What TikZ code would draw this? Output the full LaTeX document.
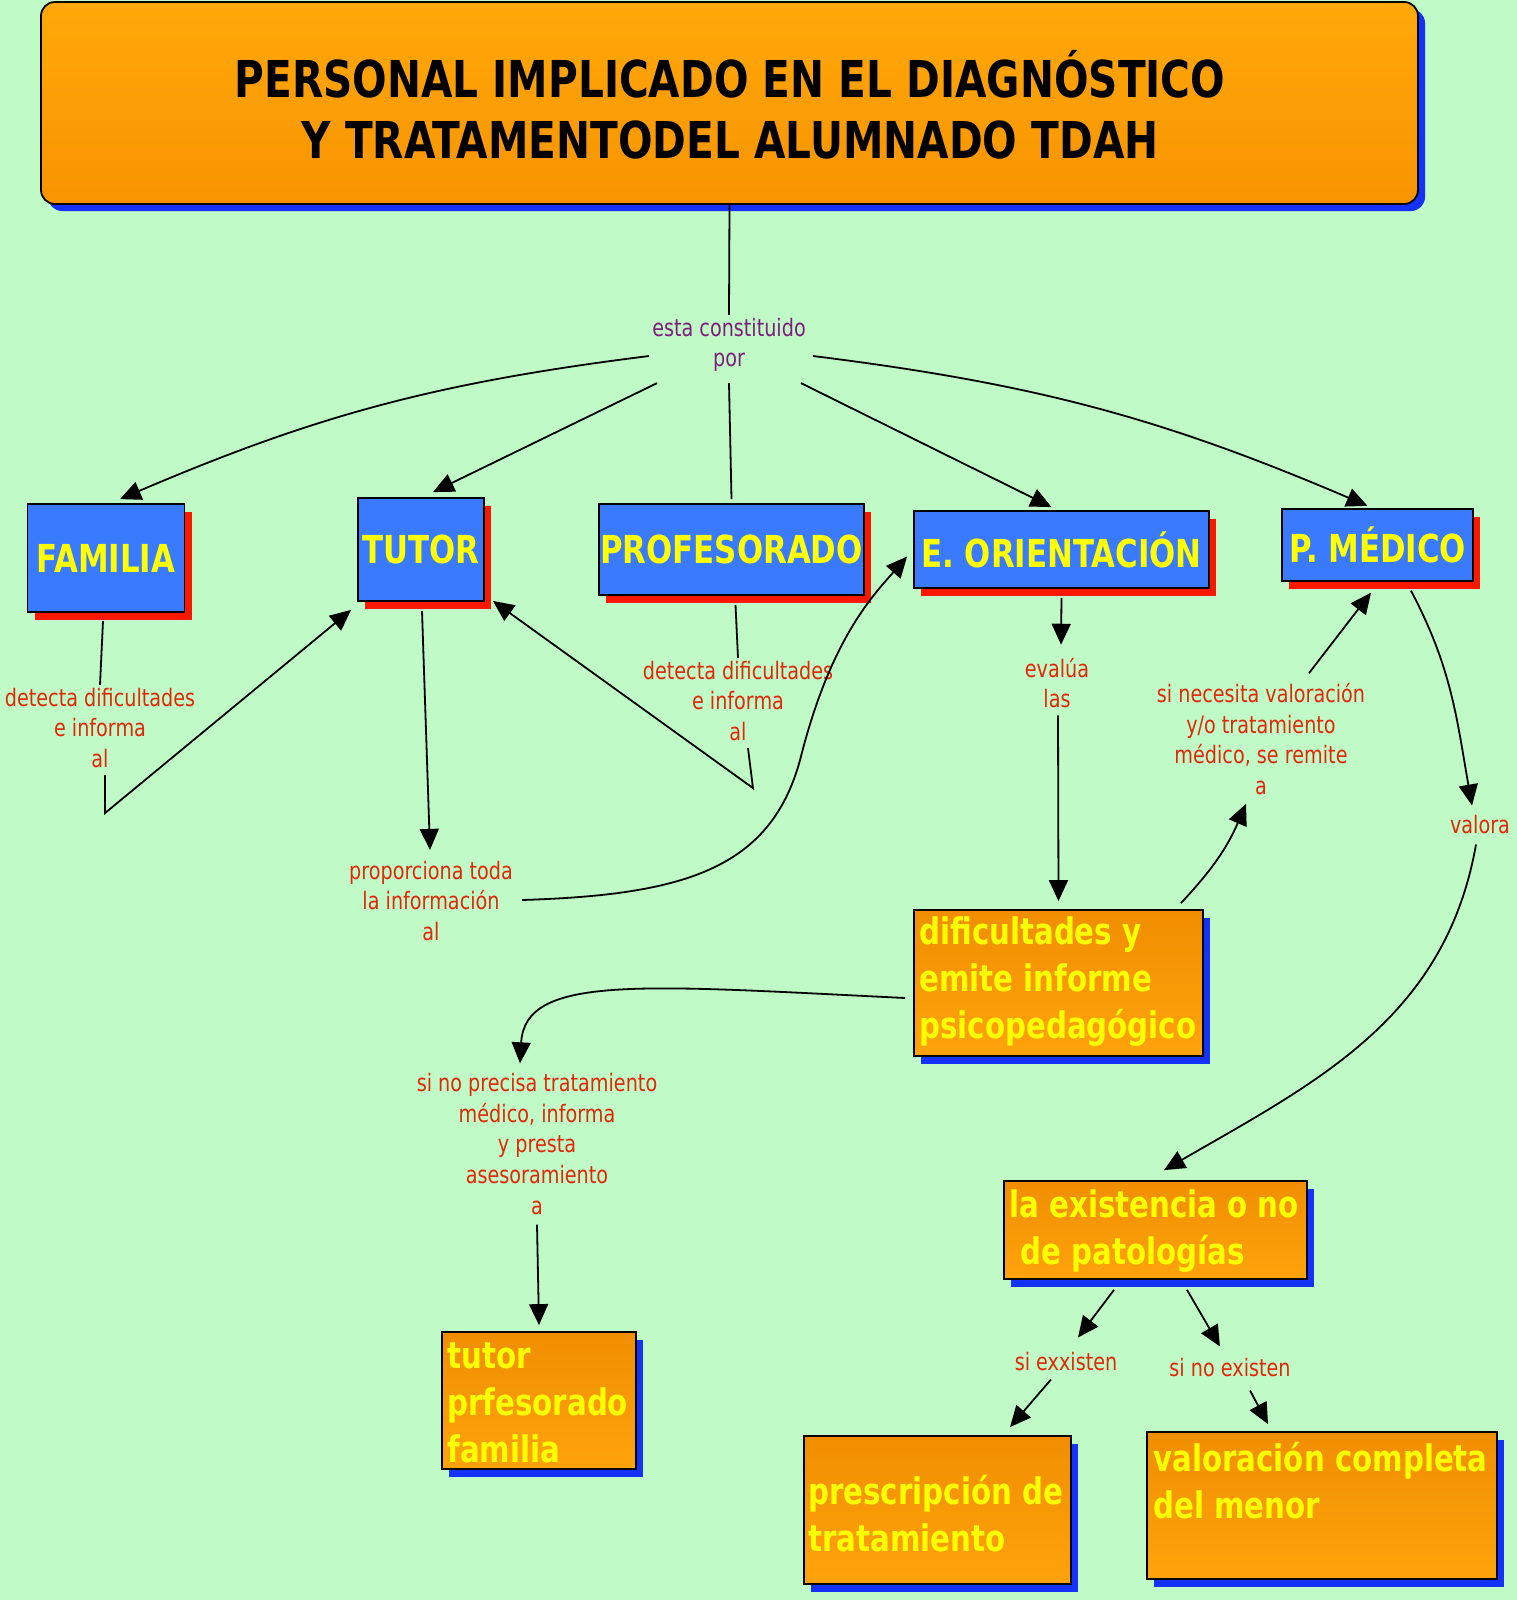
\documentclass[tikz,border=0pt]{standalone}
\usepackage{fontspec}
\newfontfamily\mapfont[FakeStretch=0.8]{DejaVu Sans}
\usetikzlibrary{arrows.meta,shadows}

\definecolor{bggreen}{RGB}{192,250,198}
\definecolor{boxblue}{RGB}{58,122,255}
\definecolor{orangetop}{RGB}{240,142,0}
\definecolor{orangebottom}{RGB}{255,163,12}
\definecolor{shadowred}{RGB}{250,25,0}
\definecolor{shadowblue}{RGB}{20,50,250}
\definecolor{textyellow}{RGB}{255,255,0}
\definecolor{linkred}{RGB}{225,40,10}
\definecolor{linkpurple}{RGB}{125,30,125}

\tikzset{
  bluebox/.style={draw=black, line width=1.8pt, fill=boxblue, text=textyellow,
    font=\mapfont\bfseries\fontsize{38.5}{44}\selectfont, inner sep=0pt,
    drop shadow={shadow xshift=7pt, shadow yshift=-8pt, fill=shadowred, opacity=1}},
  orangebox/.style={draw=black, line width=1.8pt, top color=orangetop, bottom color=orangebottom, inner sep=0pt,
    drop shadow={shadow xshift=7pt, shadow yshift=-8pt, fill=shadowblue, opacity=1}},
  orangetext/.style={text=textyellow, font=\mapfont\bfseries\fontsize{36.6}{47}\selectfont,
    align=left, inner sep=0pt, anchor=north west},
  linklabel/.style={text=linkred, font=\mapfont\fontsize{24}{30.6}\selectfont,
    align=center, inner sep=3pt},
  conn/.style={line width=1.8pt},
  connarrow/.style={conn, -{Triangle[length=21pt,width=19pt]}},
}

\begin{document}
\begin{tikzpicture}[x=1pt, y=-1pt]
    % Background
    \fill[bggreen] (0,0) rectangle (1517,1600);
    \useasboundingbox (0,0) rectangle (1517,1600);

    % Title
    \node[draw=black, line width=1.8pt, rounded corners=14pt, top color={rgb,255:red,255;green,168;blue,10},
      bottom color={rgb,255:red,248;green,148;blue,0}, minimum width=1377pt, minimum height=202pt,
      drop shadow={shadow xshift=7pt, shadow yshift=-7pt, fill=shadowblue, opacity=1}] (title) at (729.5,103) {};
    \node[font=\mapfont\bfseries\fontsize{50.8}{61}\selectfont, align=center] (titletxt) at (730,105)
      {PERSONAL IMPLICADO EN EL DIAGNÓSTICO\\Y TRATAMENTODEL ALUMNADO TDAH};

    % People
    \foreach \name/\x/\y/\w/\h/\txt in {
        familia/106/558/157/108/FAMILIA,
        tutor/421/549.5/126/103/TUTOR,
        profesorado/731.5/549.5/265/91/PROFESORADO,
        orientacion/1061.5/549.5/295/77/E. ORIENTACIÓN,
        medico/1377.5/545/191/72.5/P. MÉDICO} {
        \node[bluebox, minimum width=\w pt, minimum height=\h pt] (\name) at (\x,\y) {\txt};
    }

    % Results
    \node[orangebox, minimum width=289pt, minimum height=146pt] (psico) at (1058.5,983) {};
    \node[orangebox, minimum width=194pt, minimum height=137pt] (tutorlist) at (539,1400.5) {};
    \node[orangebox, minimum width=303pt, minimum height=98pt] (existencia) at (1155.5,1230) {};
    \node[orangebox, minimum width=267pt, minimum height=148pt] (prescripcion) at (937.5,1510) {};
    \node[orangebox, minimum width=350pt, minimum height=147pt] (valoracion) at (1322,1505.5) {};

    \node[orangetext] (psicotxt) at ([shift={(6,7)}]psico.north west) {dificultades y\\emite informe\\psicopedagógico};
    \node[orangetext] (tutorlisttxt) at ([shift={(6,11)}]tutorlist.north west) {tutor\\prfesorado\\familia};
    \node[orangetext] (existenciatxt) at ([shift={(6,9)}]existencia.north west) {la existencia o no\\\hspace*{11pt}de patologías};
    \node[orangetext] (prescripciontxt) at ([shift={(5,40)}]prescripcion.north west) {prescripción de\\tratamiento};
    \node[orangetext] (valoraciontxt) at ([shift={(7,11)}]valoracion.north west) {valoración completa\\del menor};

    % Linking phrases
    \node[linklabel, text=linkpurple] (esta) at (729,345) {esta constituido\\por};
    \node[linklabel] (detfam) at (100,728) {detecta dificultades\\e informa\\al};
    \node[linklabel] (detprof) at (738,701) {detecta dificultades\\e informa\\al};
    \node[linklabel] (propor) at (431,901) {proporciona toda\\la información\\al};
    \node[linklabel] (evalua) at (1057,683) {evalúa\\las};
    \node[linklabel] (necesita) at (1261,739) {si necesita valoración\\y/o tratamiento\\médico, se remite\\a};
    \node[linklabel] (valora) at (1480,825) {valora};
    \node[linklabel] (noprecisa) at (537,1144) {si no precisa tratamiento\\médico, informa\\y presta\\asesoramiento\\a};
    \node[linklabel] (siexisten) at (1066,1362) {si exxisten};
    \node[linklabel] (sinoexisten) at (1230,1368) {si no existen};

    % Connections from the title
    \draw[conn] (title.south) -- (esta.north);
    \draw[connarrow] ([shift={(0,11)}]esta.west) to[bend right=8] ([shift={(14,-4)}]familia.north);
    \draw[connarrow] ([shift={(8,8)}]esta.south west) -- ([shift={(12,-5)}]tutor.north);
    \draw[conn] ([shift={(0,8)}]esta.south) -- ([shift={(0,-4)}]profesorado.north);
    \draw[connarrow] ([shift={(-8,8)}]esta.south east) -- ([shift={(-10,-3)}]orientacion.north);
    \draw[connarrow] ([shift={(4,11)}]esta.east) to[bend left=8] ([shift={(-10,-2)}]medico.north);

    % Familia and profesorado inform the tutor
    \draw[conn] ([shift={(-3,8)}]familia.south) -- (detfam.north);
    \draw[connarrow] ([shift={(5,4)}]detfam.south) -- ++(0,38) -- ([shift={(-6,8)}]tutor.south west);
    \draw[conn] ([shift={(4,9)}]profesorado.south) -- (detprof.north);
    \draw[connarrow] ([shift={(10,4)}]detprof.south) -- ++(5,40) -- ([shift={(8,-1)}]tutor.south east);

    % Tutor informs the orientation team
    \draw[connarrow] ([shift={(1,9)}]tutor.south) -- ([shift={(-1,-8)}]propor.north);
    \draw[connarrow] ([shift={(6,-1)}]propor.east) .. controls +(160,-5) and +(-30,110) .. ++(278,-140)
      .. controls +(30,-120) and +(-35,40) .. ([shift={(-6,7)}]orientacion.west);

    % Orientation team
    \draw[connarrow] ([shift={(0,9)}]orientacion.south) -- ([shift={(4,-10)}]evalua.north);
    \draw[connarrow] ([shift={(1,4)}]evalua.south) -- ([shift={(0,-8)}]psico.north);
    \draw[connarrow] ([shift={(-23,-6)}]psico.north east) to[bend right=10] ([shift={(-15,6)}]necesita.south);
    \draw[connarrow] ([shift={(48,-7)}]necesita.north) -- ([shift={(-6.5,10.5)}]medico.south);
    \draw[connarrow] ([shift={(-8,15)}]psico.west) .. controls +(-266,-13) and +(5,-89) .. ([shift={(-17,-7)}]noprecisa.north);
    \draw[connarrow] ([shift={(0,7)}]noprecisa.south) -- ([shift={(0,-6)}]tutorlist.north);

    % Medical staff
    \draw[connarrow] ([shift={(-63,8.5)}]medico.south east) to[out=-62, in=100] ([shift={(-8,-7)}]valora.north);
    \draw[connarrow] ([shift={(-4,7)}]valora.south) to[out=-100, in=30] ([shift={(8.5,-10)}]existencia.north);
    \draw[connarrow] ([shift={(-41.5,10)}]existencia.south) -- ([shift={(12,-12)}]siexisten.north);
    \draw[connarrow] ([shift={(-15,5)}]siexisten.south) -- ([shift={(72.5,-8)}]prescripcion.north);
    \draw[connarrow] ([shift={(31.5,10)}]existencia.south) -- ([shift={(-10,-9)}]sinoexisten.north);
    \draw[connarrow] ([shift={(20,10)}]sinoexisten.south) -- ([shift={(-54,-7)}]valoracion.north);
\end{tikzpicture}
\end{document}
